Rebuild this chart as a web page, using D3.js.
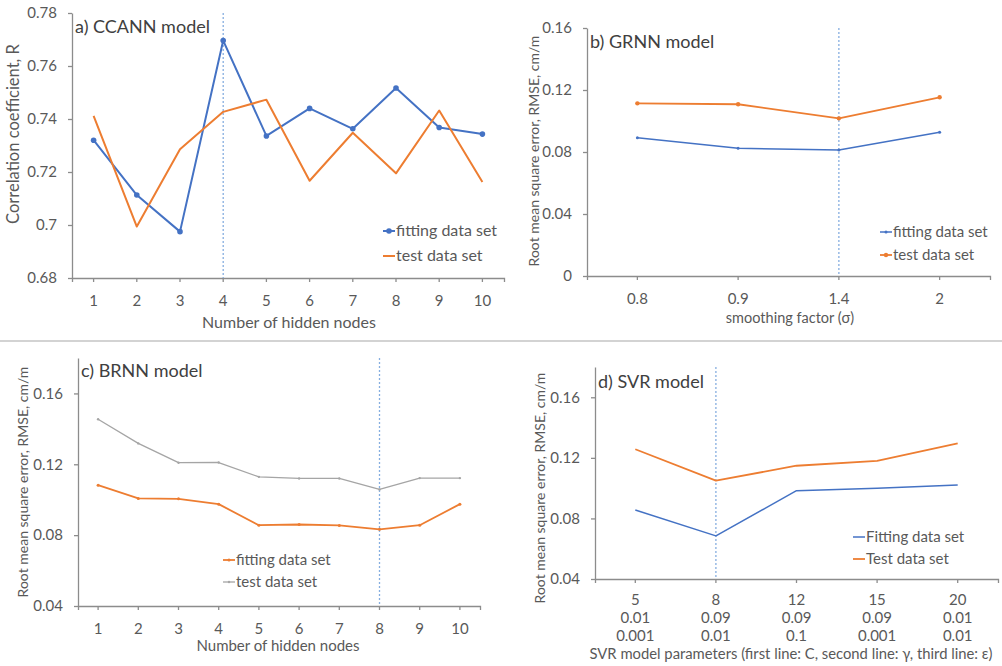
<html>
<head>
<meta charset="utf-8">
<script src="https://d3js.org/d3.v7.min.js"></script>
<style>
	body { margin: 0; background: #fff; }
	text { font-family: Lato, 'Open Sans', sans-serif; fill: #595959; }
</style>
</head>
<body>
<svg id="svg" width="1002" height="666"></svg>
<script>
'use strict';

// a) CCANN
const ccann_nodes = ['1', '2', '3', '4', '5', '6', '7', '8', '9', '10'];
const ccann_fit = [0.7320, 0.7113, 0.6975, 0.7696, 0.7336, 0.7440, 0.7363, 0.7517, 0.7368, 0.7343];
const ccann_test = [0.7412, 0.6994, 0.7286, 0.7427, 0.7473, 0.7167, 0.7348, 0.7195, 0.7432, 0.7162];
const ccann_ticks = [0.68, 0.70, 0.72, 0.74, 0.76, 0.78];
const ccann_tick_labels = ['0.68', '0.7', '0.72', '0.74', '0.76', '0.78'];

// b) GRNN
const grnn_sigma = ['0.8', '0.9', '1.4', '2'];
const grnn_fit = [0.0892, 0.0824, 0.0813, 0.0927];
const grnn_test = [0.1114, 0.1108, 0.1017, 0.1153];
const grnn_ticks = [0, 0.04, 0.08, 0.12, 0.16];
const grnn_tick_labels = ['0', '0.04', '0.08', '0.12', '0.16'];

// c) BRNN
const brnn_nodes = ['1', '2', '3', '4', '5', '6', '7', '8', '9', '10'];
const brnn_fit = [0.1082, 0.1007, 0.1005, 0.0975, 0.0856, 0.0860, 0.0855, 0.0833, 0.0856, 0.0975];
const brnn_test = [0.1454, 0.1318, 0.1209, 0.1210, 0.1129, 0.1120, 0.1120, 0.1058, 0.1122, 0.1122];
const brnn_ticks = [0.04, 0.08, 0.12, 0.16];
const brnn_tick_labels = ['0.04', '0.08', '0.12', '0.16'];

// d) SVR
const svr_c = ['5', '8', '12', '15', '20'];
const svr_gamma = ['0.01', '0.09', '0.09', '0.09', '0.01'];
const svr_eps = ['0.001', '0.01', '0.1', '0.001', '0.01'];
const svr_fit = [0.0856, 0.0685, 0.0983, 0.0999, 0.1021];
const svr_test = [0.1257, 0.1050, 0.1148, 0.1180, 0.1296];
const svr_ticks = [0.04, 0.08, 0.12, 0.16];
const svr_tick_labels = ['0.04', '0.08', '0.12', '0.16'];

const blue = '#4472c4';
const orange = '#ed7d31';
const grey = '#a5a5a5';
const axis_col = '#8c8c8c';

const svg = d3.select('#svg');

// separator between the two rows
svg.append('line')
	.attr('x1', 0).attr('x2', 1002)
	.attr('y1', 341).attr('y2', 341)
	.attr('stroke', '#c4c4c4').attr('stroke-width', 1.5);

function draw_panel(p) {
	const x = d3.scaleBand().domain(p.cats).range([p.x0, p.x1]);
	const y = d3.scaleLinear().domain(p.domain).range([p.y_bot, p.y_top]);
	const cx = d => x(d) + x.bandwidth() / 2;
	const g = svg.append('g');

	const ya = g.append('g')
		.attr('transform', `translate(${p.x0},0)`)
		.call(d3.axisLeft(y).tickValues(p.ticks).tickFormat((d, i) => p.tick_labels[i])
			.tickSize(4).tickSizeOuter(0).tickPadding(11));
	ya.selectAll('text').style('font-size', '15px');

	const xa = g.append('g')
		.attr('transform', `translate(0,${p.y_bot})`)
		.call(d3.axisBottom(x).tickSize(4).tickSizeOuter(4).tickPadding(13)
			.tickFormat(p.multi ? '' : d => d));
	xa.selectAll('text').style('font-size', '15px');

	if (p.multi) {
		xa.selectAll('.tick').append('text')
			.attr('text-anchor', 'middle')
			.style('font-size', '15px')
			.selectAll('tspan')
			.data((d, i) => p.multi.map(r => r[i]))
			.join('tspan')
			.attr('x', 0)
			.attr('y', (d, j) => 26 + j * 18)
			.text(d => d);
	}

	g.selectAll('.domain, .tick line').attr('stroke', axis_col).attr('stroke-width', 1.3);
	g.selectAll('.tick text').style('fill', '#595959');

	// highlighted setting
	g.append('line')
		.attr('x1', cx(p.mark)).attr('x2', cx(p.mark))
		.attr('y1', y(p.domain[1])).attr('y2', p.y_bot)
		.attr('stroke', '#86aee0').attr('stroke-width', 1.3)
		.attr('stroke-dasharray', '2,2');

	for (const s of p.series) {
		const line = d3.line().x((d, i) => cx(p.cats[i])).y(d => y(d));
		g.append('path')
			.datum(s.values)
			.attr('fill', 'none')
			.attr('stroke', s.color)
			.attr('stroke-width', s.width)
			.attr('stroke-linejoin', 'round')
			.attr('d', line);
		if (s.marker) {
			g.append('g').selectAll('circle')
				.data(s.values)
				.join('circle')
				.attr('cx', (d, i) => cx(p.cats[i]))
				.attr('cy', d => y(d))
				.attr('r', s.marker)
				.attr('fill', s.color);
		}
	}

	// panel title
	g.append('text')
		.attr('x', p.x0 + 3)
		.attr('y', p.title_y)
		.style('font-size', '18px')
		.style('fill', '#404040')
		.text(p.title);

	// axis titles
	g.append('text')
		.attr('transform', `translate(${p.ytitle_x},${p.ytitle_y}) rotate(-90)`)
		.attr('text-anchor', 'middle')
		.style('font-size', p.ytitle_size)
		.text(p.ytitle);
	g.append('text')
		.attr('x', p.xtitle_x)
		.attr('y', p.xtitle_y)
		.attr('text-anchor', 'middle')
		.style('font-size', p.xtitle_size)
		.text(p.xtitle);

	// legend
	p.series.forEach((s, i) => {
		const ly = p.leg_y + i * p.leg_gap;
		g.append('line')
			.attr('x1', p.leg_x).attr('x2', p.leg_x + 12)
			.attr('y1', ly).attr('y2', ly)
			.attr('stroke', s.color).attr('stroke-width', s.width);
		if (s.marker) {
			g.append('circle').attr('cx', p.leg_x + 6).attr('cy', ly).attr('r', s.marker).attr('fill', s.color);
		}
		g.append('text')
			.attr('x', p.leg_x + 13)
			.attr('y', ly + 5)
			.style('font-size', p.leg_size)
			.text(s.name);
	});
}

draw_panel({
	cats: ccann_nodes, domain: [0.68, 0.78], ticks: ccann_ticks, tick_labels: ccann_tick_labels,
	x0: 72, x1: 504, y_top: 13, y_bot: 278, mark: '4',
	title: 'a) CCANN model', title_y: 33,
	ytitle: 'Correlation coefficient, R', ytitle_x: 19, ytitle_y: 134, ytitle_size: '16.5px',
	xtitle: 'Number of hidden nodes', xtitle_x: 289, xtitle_y: 328, xtitle_size: '16px',
	leg_x: 383, leg_y: 231, leg_gap: 25, leg_size: '16px',
	series: [
		{name: 'fitting data set', values: ccann_fit, color: blue, width: 2, marker: 2.8},
		{name: 'test data set', values: ccann_test, color: orange, width: 2, marker: 0}
	]
});

draw_panel({
	cats: grnn_sigma, domain: [0, 0.16], ticks: grnn_ticks, tick_labels: grnn_tick_labels,
	x0: 587, x1: 990, y_top: 28, y_bot: 276, mark: '1.4',
	title: 'b) GRNN model', title_y: 48,
	ytitle: 'Root mean square error, RMSE, cm/m', ytitle_x: 539, ytitle_y: 151, ytitle_size: '14px',
	xtitle: 'smoothing factor (σ)', xtitle_x: 790, xtitle_y: 323, xtitle_size: '14.5px',
	leg_x: 880, leg_y: 232, leg_gap: 23, leg_size: '15px',
	series: [
		{name: 'fitting data set', values: grnn_fit, color: blue, width: 1.5, marker: 1.5},
		{name: 'test data set', values: grnn_test, color: orange, width: 1.8, marker: 2.2}
	]
});

draw_panel({
	cats: brnn_nodes, domain: [0.04, 0.18], ticks: brnn_ticks, tick_labels: brnn_tick_labels,
	x0: 78, x1: 480, y_top: 358, y_bot: 606, mark: '8',
	title: 'c) BRNN model', title_y: 377,
	ytitle: 'Root mean square error, RMSE, cm/m', ytitle_x: 28, ytitle_y: 482, ytitle_size: '14px',
	xtitle: 'Number of hidden nodes', xtitle_x: 278, xtitle_y: 651, xtitle_size: '15px',
	leg_x: 223, leg_y: 560, leg_gap: 22, leg_size: '15px',
	series: [
		{name: 'fitting data set', values: brnn_fit, color: orange, width: 1.8, marker: 1.5},
		{name: 'test data set', values: brnn_test, color: grey, width: 1.3, marker: 1.2}
	]
});

draw_panel({
	cats: svr_c, domain: [0.04, 0.18], ticks: svr_ticks, tick_labels: svr_tick_labels,
	x0: 595, x1: 998, y_top: 367, y_bot: 579, mark: '8',
	multi: [svr_c, svr_gamma, svr_eps],
	title: 'd) SVR model', title_y: 388,
	ytitle: 'Root mean square error, RMSE, cm/m', ytitle_x: 545, ytitle_y: 488, ytitle_size: '14px',
	xtitle: 'SVR model parameters (first line: C, second line: γ, third line: ε)', xtitle_x: 791, xtitle_y: 659,
	xtitle_size: '14.8px',
	leg_x: 853, leg_y: 537, leg_gap: 22, leg_size: '15px',
	series: [
		{name: 'Fitting data set', values: svr_fit, color: blue, width: 1.5, marker: 0},
		{name: 'Test data set', values: svr_test, color: orange, width: 1.8, marker: 0}
	]
});
</script>
</body>
</html>
